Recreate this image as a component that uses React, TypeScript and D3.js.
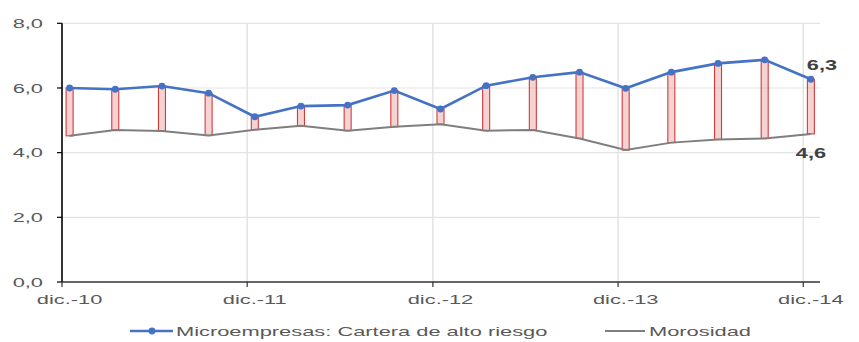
import React from "react";
import * as d3 from "d3";

// Quarterly observations, Dec-2010 .. Dec-2014
const periods = [
  "2010-12", "2011-03", "2011-06", "2011-09",
  "2011-12", "2012-03", "2012-06", "2012-09",
  "2012-12", "2013-03", "2013-06", "2013-09",
  "2013-12", "2014-03", "2014-06", "2014-09",
  "2014-12",
];
const carteraAltoRiesgo = [
  6.0, 5.96, 6.06, 5.84, 5.11, 5.44, 5.47, 5.92, 5.35, 6.07, 6.33, 6.49,
  5.99, 6.49, 6.76, 6.87, 6.27,
];
const morosidad = [
  4.52, 4.7, 4.67, 4.53, 4.71, 4.83, 4.68, 4.8, 4.88, 4.68, 4.7, 4.44,
  4.08, 4.31, 4.41, 4.44, 4.58,
];
const yTicks = [0, 2, 4, 6, 8];
const xTickYears = [2010, 2011, 2012, 2013, 2014];
const xTickLabels = ["dic.-10", "dic.-11", "dic.-12", "dic.-13", "dic.-14"];
const seriesNames = ["Microempresas: Cartera de alto riesgo", "Morosidad"];

const W = 859;
const H = 342;
const FONT = "'Liberation Sans', Arial, sans-serif";
const TEXT = "#595959";
const BLUE = "#4472C4";
const GREY = "#7f7f7f";
const STRETCH = 1.68;

const parse = (p: string) => {
  const [y, m] = p.split("-").map(Number);
  return new Date(Date.UTC(y, m - 1, 16));
};

const fmt = (v: number) => v.toFixed(1).replace(".", ",");

// Text widened horizontally around its anchor point
function WideText(props: {
  x: number;
  y: number;
  anchor?: "start" | "middle" | "end";
  size?: number;
  bold?: boolean;
  fill?: string;
  sx?: number;
  dy?: string;
  children: React.ReactNode;
}) {
  const { x, y, anchor = "start", size = 13, bold, fill = TEXT, sx = STRETCH, dy, children } = props;
  return (
    <text
      transform={`translate(${x},${y}) scale(${sx},1)`}
      textAnchor={anchor}
      fontSize={size}
      fontWeight={bold ? "bold" : "normal"}
      fill={fill}
      dy={dy}
    >
      {children}
    </text>
  );
}

export default function App() {
  const x = d3
    .scaleUtc()
    .domain([new Date(Date.UTC(2010, 11, 1)), new Date(Date.UTC(2015, 0, 3))])
    .range([62, 820]);
  const y = d3.scaleLinear().domain([0, 8]).range([282, 23.3]);

  const dates = periods.map(parse);
  const xTicks = xTickYears.map((yr) => new Date(Date.UTC(yr, 11, 1)));
  // labels sit under the December observation of each year
  const xLabelDates = xTickYears.map((yr) => parse(`${yr}-12`));

  const lineBlue = d3
    .line<number>()
    .x((_, i) => x(dates[i]))
    .y((d) => y(d))(carteraAltoRiesgo) as string;
  const lineGrey = d3
    .line<number>()
    .x((_, i) => x(dates[i]))
    .y((d) => y(d))(morosidad) as string;

  const [x0, x1] = x.range();
  const last = periods.length - 1;

  return (
    <svg
      width={W}
      height={H}
      style={{ position: "absolute", left: 0, top: 0, background: "#fff" }}
      fontFamily={FONT}
    >
      {/* grid */}
      {yTicks
        .filter((t) => t > 0)
        .map((t) => (
          <line key={"gy" + t} x1={x0} x2={x1} y1={y(t)} y2={y(t)} stroke="#e3e3e3" strokeWidth={1.2} />
        ))}
      {xTicks.slice(1).map((d, i) => (
        <line key={"gx" + i} x1={x(d)} x2={x(d)} y1={y(8)} y2={y(0)} stroke="#e3e3e3" strokeWidth={1.5} />
      ))}

      {/* axes */}
      <line x1={x0} x2={x0} y1={y(8)} y2={y(0)} stroke="#000" strokeWidth={1.6} />
      {yTicks.map((t) => (
        <g key={"yt" + t}>
          <line x1={x0 - 5} x2={x0} y1={y(t)} y2={y(t)} stroke="#000" strokeWidth={1.2} />
          <WideText x={43} y={y(t)} dy="0.35em" anchor="end">
            {fmt(t)}
          </WideText>
        </g>
      ))}
      <line x1={x0} x2={x1} y1={y(0)} y2={y(0)} stroke="#333" strokeWidth={1.6} />
      {xTicks.map((d, i) => (
        <g key={"xt" + i}>
          <line x1={x(d)} x2={x(d)} y1={y(0)} y2={y(0) + 5} stroke="#333" strokeWidth={1.2} />
          <WideText x={x(xLabelDates[i])} y={y(0) + 22} anchor="middle">
            {xTickLabels[i]}
          </WideText>
        </g>
      ))}

      {/* spread bars between the two series */}
      {dates.map((d, i) => {
        const hi = Math.max(carteraAltoRiesgo[i], morosidad[i]);
        const lo = Math.min(carteraAltoRiesgo[i], morosidad[i]);
        return (
          <rect
            key={"bar" + i}
            x={x(d) - 3.5}
            y={y(hi)}
            width={7}
            height={y(lo) - y(hi)}
            fill="rgba(225,110,110,0.3)"
            stroke="#d23a3a"
            strokeWidth={1.1}
          />
        );
      })}

      {/* series */}
      <path d={lineGrey} fill="none" stroke={GREY} strokeWidth={2} />
      <path d={lineBlue} fill="none" stroke={BLUE} strokeWidth={2.6} />
      {dates.map((d, i) => (
        <circle key={"m" + i} cx={x(d)} cy={y(carteraAltoRiesgo[i])} r={3.4} fill={BLUE} />
      ))}

      {/* end labels */}
      <WideText x={x(dates[last]) - 4} y={y(carteraAltoRiesgo[last]) - 9} size={14} bold fill="#404040" sx={1.55}>
        {fmt(carteraAltoRiesgo[last])}
      </WideText>
      <WideText x={x(dates[last]) - 15} y={y(morosidad[last]) + 24} size={14} bold fill="#404040" sx={1.55}>
        {fmt(morosidad[last])}
      </WideText>

      {/* legend */}
      <g>
        <line x1={130} x2={173} y1={331} y2={331} stroke={BLUE} strokeWidth={2.6} />
        <circle cx={152} cy={331} r={3.4} fill={BLUE} />
        <WideText x={176} y={331} dy="0.35em">
          {seriesNames[0]}
        </WideText>
        <line x1={605} x2={645} y1={331} y2={331} stroke={GREY} strokeWidth={2} />
        <WideText x={649} y={331} dy="0.35em">
          {seriesNames[1]}
        </WideText>
      </g>
    </svg>
  );
}
